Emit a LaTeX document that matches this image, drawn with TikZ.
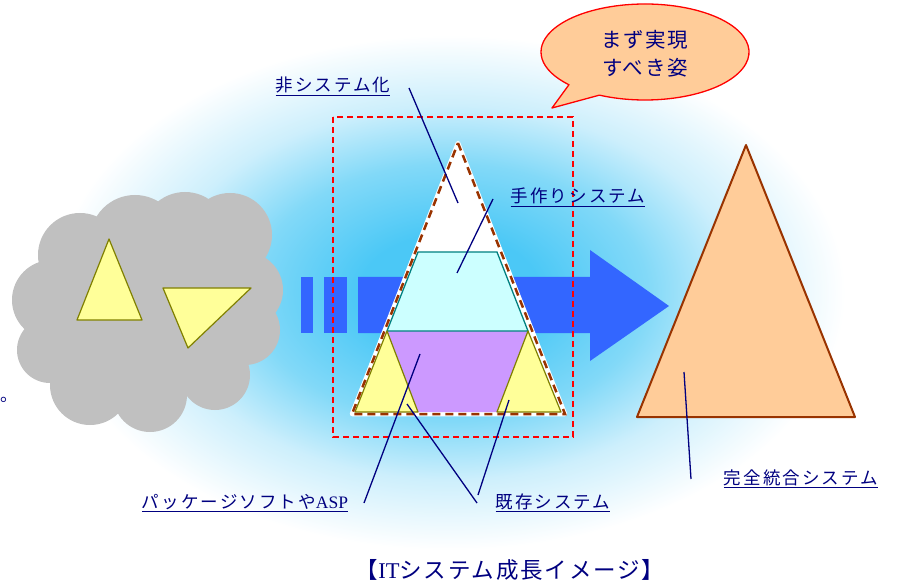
\documentclass[tikz,border=0pt]{standalone}
\usepackage{fontspec}
\usepackage{xcolor}
\newfontfamily\jpfont[LetterSpace=12]{Noto Sans CJK JP}
\newfontfamily\bubfont[LetterSpace=8]{Noto Sans CJK JP}
\newfontfamily\latfont{Liberation Serif}
\definecolor{glowblue}{RGB}{75,200,246}
\definecolor{glowmid}{RGB}{130,217,248}
\definecolor{glowpale}{RGB}{205,239,252}
\pgfdeclareradialshading{glow}{\pgfpoint{0bp}{0bp}}{color(0bp)=(glowblue); color(5bp)=(glowblue); color(11bp)=(glowmid); color(16bp)=(glowpale); color(22bp)=(white); color(50bp)=(white)}

\begin{document}
\begin{tikzpicture}[x=1pt,y=-1pt,
  lbl/.style={anchor=base,text=navy,font=\jpfont\fontsize{17.5}{20}\selectfont},
  leader/.style={draw=navy,line width=1.3pt},
  yelltri/.style={fill=paleyellow,draw=olive,line width=1.2pt,line join=round}]
\definecolor{navy}{HTML}{000080}
\definecolor{cloudgray}{HTML}{C0C0C0}
\definecolor{paleyellow}{HTML}{FFFF99}
\definecolor{olive}{HTML}{808000}
\definecolor{arrowblue}{HTML}{3366FF}
\definecolor{tealline}{HTML}{008080}
\definecolor{palecyan}{HTML}{CCFFFF}
\definecolor{lilac}{HTML}{CC99FF}
\definecolor{peach}{HTML}{FFCC99}
\definecolor{rustbrown}{HTML}{993300}
\useasboundingbox (0,0) rectangle (899,585);
% background glow
\fill[shading=glow] (0,0) rectangle (899,585);
% cloud of separate systems
\foreach \cx/\cy/\r in {80/255/42,135/240/45,185/235/43,230/235/42,245/290/38,245/330/35,
                        215/375/35,150/395/37,90/385/40,50/350/33,52/300/40,150/310/90}
  {\fill[cloudgray] (\cx,\cy) circle (\r pt);}
\draw[yelltri] (109,239) -- (142,320) -- (77,320) -- cycle;
\draw[yelltri] (163,288) -- (251,288) -- (188,348) -- cycle;
% growth arrow
\fill[arrowblue] (301,277) rectangle (313,333);
\fill[arrowblue] (324,277) rectangle (347,333);
\fill[arrowblue] (358,277) -- (590,277) -- (590,250) -- (669,306) -- (590,361) -- (590,333) -- (358,333) -- cycle;
% target frame
\draw[red,line width=1.5pt,dash pattern=on 6pt off 4pt] (333,117) rectangle (573,437);
% current pyramid
\coordinate (apex) at (458,143);
\coordinate (bl) at (352,414);
\coordinate (br) at (565,414);
\filldraw[white,line width=4.5pt,line join=round] (apex) -- (br) -- (bl) -- cycle;
\fill[lilac] (387,331) -- (528,331) -- (561,412) -- (355,412) -- cycle;
\draw[fill=palecyan,draw=tealline,line width=1.3pt] (418,252) -- (497,252) -- (528,331) -- (387,331) -- cycle;
\draw[yelltri] (387,331) -- (418,412) -- (355,412) -- cycle;
\draw[yelltri] (528,331) -- (561,412) -- (497,412) -- cycle;
\draw[rustbrown,line width=2.5pt,dash pattern=on 8pt off 5pt] (apex) -- (br) -- (bl) -- cycle;
% integrated system
\draw[fill=peach,draw=rustbrown,line width=2pt,line join=round] (746,145) -- (855,417) -- (637,417) -- cycle;
% speech bubble
\coordinate (bub) at (645,52);
\coordinate (tail) at (552,108);
\draw[fill=peach,draw=red,line width=1.3pt,line join=round]
  (bub) ++(244:104pt and 48pt) arc[start angle=244,end angle=583,x radius=104pt,y radius=48pt] -- (tail) -- cycle;
\node[lbl,font=\bubfont\fontsize{20.5}{28}\selectfont,align=center] (goal) at (645,76) {まず実現\\すべき姿};
% labels
\node[lbl] (nonsys) at (333,92) {\underline{非システム化}};
\node[lbl] (hand) at (578,203) {\underline{手作りシステム}};
\node[lbl] (pkg) at (245,508) {\underline{パッケージソフトや{\latfont ASP}}};
\node[lbl] (legacy) at (553,508) {\underline{既存システム}};
\node[lbl] (full) at (801,484) {\underline{完全統合システム}};
\node[lbl,inner sep=0pt,anchor=base west] (dot) at (0,401) {。};
\node[lbl,font=\bubfont\fontsize{22.5}{24}\selectfont] (title) at (510,578) {【{\latfont IT}システム成長イメージ】};
% leader lines
\coordinate (nonsys-e) at (409,88);   \coordinate (nonsys-p) at (458,203);
\coordinate (hand-e) at (493,199);    \coordinate (hand-p) at (457,273);
\coordinate (pkg-e) at (364,503);     \coordinate (pkg-p) at (420,354);
\coordinate (legacy-e) at (477,503);  \coordinate (legacy-l) at (407,404);
\coordinate (legacy-f) at (478,495);  \coordinate (legacy-r) at (509,400);
\coordinate (full-e) at (691,479);    \coordinate (full-p) at (684,372);
\foreach \a/\b in {nonsys-e/nonsys-p,hand-e/hand-p,pkg-e/pkg-p,legacy-e/legacy-l,legacy-f/legacy-r,full-e/full-p}
  {\draw[leader] (\a) -- (\b);}
\end{tikzpicture}
\end{document}
